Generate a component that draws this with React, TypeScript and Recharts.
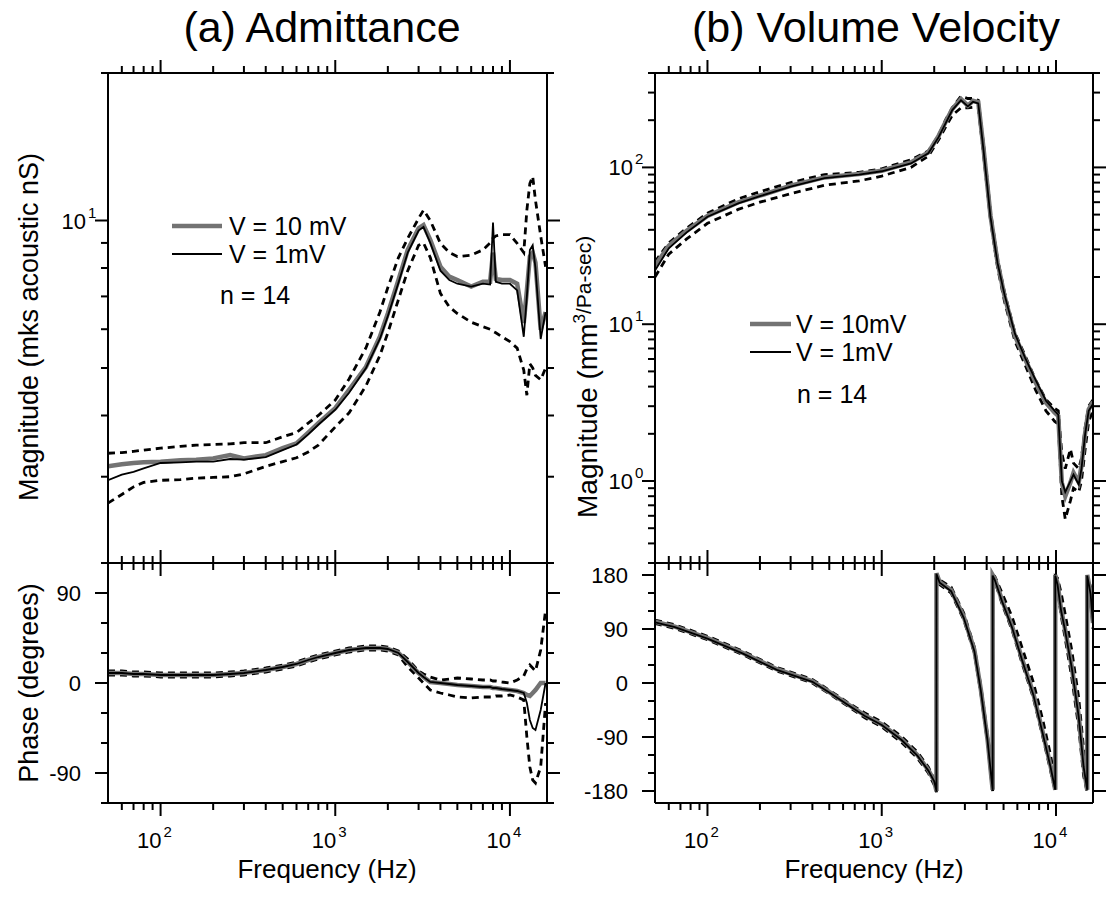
import React from 'react';
import { LineChart, Line, XAxis, YAxis } from 'recharts';

const W = 1114;
const H = 898;
const FONT = '"Liberation Sans", Arial, Helvetica, sans-serif';

// ---------- axes ----------
const X_DOMAIN = [50, 16300];
const freqTicks = [60, 70, 80, 90, 100, 200, 300, 400, 500, 600, 700, 800, 900, 1000, 2000, 3000, 4000, 5000, 6000, 7000, 8000, 9000, 10000];

const admMagDomain = [2, 20];
const admMagTicks = [2, 3, 4, 5, 6, 7, 8, 9, 10, 20];
const admPhDomain = [-120, 120];
const admPhTicks = [-120, -90, -60, -30, 0, 30, 60, 90, 120];
const admPhLabels = [-90, 0, 90];

const vvMagDomain = [0.3, 400];
const vvMagTicks = [0.3, 0.4, 0.5, 0.6, 0.7, 0.8, 0.9, 1, 2, 3, 4, 5, 6, 7, 8, 9, 10, 20, 30, 40, 50, 60, 70, 80, 90, 100, 200, 300, 400];
const vvPhDomain = [-200, 200];
const vvPhTicks = [-180, -150, -120, -90, -60, -30, 0, 30, 60, 90, 120, 150, 180];
const vvPhLabels = [-180, -90, 0, 90, 180];

// ---------- (a) Admittance ----------
const admFreq = [50, 60, 70, 80, 100, 130, 160, 200, 250, 300, 400, 500, 600, 700, 800, 1000, 1200, 1500, 1800, 2000, 2300, 2600, 3000, 3200, 3500, 4000, 4500, 5000, 6000, 7000, 7700, 8000, 8300, 9000, 10000, 11000, 12000, 12500, 13000, 13500, 14000, 15000, 16000];

const admMag10mV = [3.15, 3.18, 3.2, 3.21, 3.22, 3.24, 3.25, 3.27, 3.32, 3.27, 3.32, 3.43, 3.51, 3.69, 3.86, 4.14, 4.51, 5.03, 5.79, 6.46, 7.56, 8.71, 9.64, 9.79, 9.13, 8.05, 7.68, 7.56, 7.33, 7.5, 7.5, 8.6, 7.6, 7.56, 7.56, 7.43, 6.18, 7.2, 8.44, 8.6, 8.2, 5.98, 6.5];
const admMag1mV = [2.95, 3.03, 3.07, 3.12, 3.2, 3.21, 3.22, 3.22, 3.26, 3.25, 3.29, 3.4, 3.49, 3.66, 3.83, 4.11, 4.45, 5.0, 5.73, 6.38, 7.46, 8.6, 9.54, 9.7, 9.0, 7.9, 7.56, 7.43, 7.33, 7.43, 7.4, 9.9, 7.5, 7.43, 7.43, 7.2, 5.79, 7.0, 8.7, 8.9, 8.0, 5.73, 6.5];
const admMagUpper = [3.35, 3.36, 3.38, 3.4, 3.43, 3.46, 3.48, 3.49, 3.5, 3.52, 3.52, 3.62, 3.69, 3.86, 4.0, 4.3, 4.75, 5.5, 6.5, 7.3, 8.4, 9.2, 10.1, 10.5, 10.0, 8.98, 8.6, 8.44, 8.5, 8.71, 9.0, 9.2, 9.3, 9.36, 9.36, 8.98, 8.6, 10.5, 11.9, 12.3, 11.0, 9.3, 8.05];
const admMagLower = [2.65, 2.76, 2.86, 2.92, 2.95, 2.96, 2.98, 2.99, 3.0, 3.04, 3.15, 3.22, 3.28, 3.37, 3.48, 3.79, 4.05, 4.6, 5.3, 5.9, 6.9, 7.9, 8.9, 9.0, 8.4, 7.1, 6.66, 6.46, 6.2, 6.07, 6.0, 5.94, 5.9, 5.79, 5.66, 5.49, 4.95, 4.4, 5.1, 5.0, 4.83, 4.73, 5.0];

const admPh10mV = [10, 10, 9, 9, 8, 8, 8, 8, 9, 10, 13, 16, 19, 23, 26, 30, 33, 35, 35, 34, 30, 21, 10, 6, 1, 0, -1, -2, -3, -4, -4, -5, -5, -6, -7, -8, -10, -12, -13, -10, -7, 0, 0];
const admPh1mV = [10, 10, 9, 9, 8, 8, 8, 8, 9, 10, 13, 16, 19, 23, 26, 30, 33, 35, 35, 34, 30, 21, 10, 6, 1, 0, -1, -2, -3, -4, -4, -5, -5, -6, -7, -8, -10, -20, -37, -45, -47, -27, 0];
const admPhUpper = [12, 12, 11, 11, 10, 10, 10, 10, 11, 12, 15, 18, 21, 25, 28, 32, 35, 37, 37, 36, 32, 24, 12, 9, 6, 3, 4, 5, 4, 3, 3, 2, 2, 1, 0, 3, 7, 14, 18, 15, 12, 33, 73];
const admPhLower = [8, 8, 7, 7, 6, 6, 6, 6, 7, 8, 11, 14, 17, 21, 24, 28, 31, 33, 33, 32, 28, 16, 5, 0, -7, -10, -12, -14, -15, -14, -14, -14, -13, -13, -12, -14, -17, -54, -84, -97, -100, -84, -20];

// ---------- (b) Volume Velocity ----------
const vvMagFreq = [50, 60, 76, 100, 150, 200, 300, 470, 740, 1000, 1470, 1850, 2120, 2320, 2540, 2850, 3120, 3340, 3580, 3840, 4210, 4620, 5060, 5810, 6650, 7640, 8760, 9830, 10300, 10800, 11300, 12100, 12600, 13500, 14000, 14700, 15400, 16300];
const vvMag10mV = [23.6, 31.6, 39.4, 49.1, 59.8, 66, 76.4, 86.3, 90.7, 95.2, 107.6, 124.6, 159, 194, 236, 273, 248, 266, 260, 131, 49, 24.8, 15.2, 8.43, 5.98, 4.25, 3.16, 2.73, 2.6, 0.975, 0.8, 0.98, 1.13, 0.98, 1.25, 2.03, 2.86, 3.2];
const vvMag1mV = [22, 30.5, 38.5, 48.5, 59, 65.5, 75.5, 85.5, 90, 94.5, 106, 123, 156, 190, 232, 268, 245, 262, 256, 128, 48, 24.5, 15.5, 8.7, 6.1, 4.4, 3.25, 2.8, 2.65, 1.0, 0.85, 1.0, 1.1, 0.95, 1.2, 2.0, 2.8, 3.1];
const vvMagUpper = [25, 33, 41, 51, 63, 70, 80, 90, 93, 98, 112, 127, 160, 200, 240, 285, 275, 275, 268, 140, 52, 26, 16, 8.8, 6.3, 4.4, 3.3, 2.9, 2.8, 1.5, 1.2, 1.6, 1.3, 1.2, 1.4, 2.2, 3.0, 3.3];
const vvMagLower = [20, 28, 35, 44, 54, 60, 68, 77, 82, 88, 100, 118, 150, 180, 215, 240, 240, 242, 240, 120, 46, 23, 14, 7.8, 5.5, 3.8, 2.8, 2.4, 2.3, 0.8, 0.57, 0.75, 0.9, 0.85, 1.0, 1.6, 2.4, 2.8];

const vvPhFreq = [50, 65, 100, 160, 250, 400, 500, 650, 800, 1000, 1300, 1600, 1850, 2000, 2060, 2060, 2150, 2500, 2950, 3400, 3700, 4050, 4250, 4330, 4330, 4450, 4900, 5600, 6400, 7400, 8400, 9300, 9900, 9900, 10200, 10700, 11200, 12300, 13500, 14400, 15100, 15100, 15800, 16300];
const vvPh10mV = [102, 94, 75, 50, 23, 3, -15, -37, -54, -69, -94, -120, -145, -163, -180, 183, 168, 155, 111, 55, -10, -95, -155, -178, 180, 174, 138, 94, 39, -17, -83, -138, -178, 180, 166, 122, 94, 28, -55, -138, -178, 180, 150, 100];
const vvPh1mV = [101, 93, 74, 49, 22, 2, -16, -38, -55, -70, -95, -121, -146, -164, -180, 182, 167, 153, 109, 53, -12, -97, -156, -178, 179, 172, 136, 92, 37, -19, -85, -140, -178, 179, 164, 120, 92, 26, -57, -140, -178, 179, 148, 98];
const vvPhUpper = [105, 97, 78, 53, 26, 6, -12, -34, -50, -65, -89, -115, -140, -160, -178, 182, 172, 160, 117, 60, -4, -88, -150, -175, 180, 178, 150, 110, 58, 2, -62, -120, -165, 178, 175, 150, 120, 55, -25, -110, -160, 178, 160, 120];
const vvPhLower = [99, 91, 72, 47, 20, 0, -18, -40, -58, -73, -99, -125, -150, -170, -182, 180, 164, 150, 106, 50, -16, -100, -160, -180, 178, 170, 132, 88, 32, -24, -90, -146, -180, 176, 160, 112, 80, 10, -75, -155, -182, 178, 140, 90];

function buildRows(f: number[], g: number[], s: number[], u: number[], l: number[]) {
  return f.map((x, i) => ({ f: x, g: g[i], s: s[i], u: u[i], l: l[i] }));
}

const admMagRows = buildRows(admFreq, admMag10mV, admMag1mV, admMagUpper, admMagLower);
const admPhRows = buildRows(admFreq, admPh10mV, admPh1mV, admPhUpper, admPhLower);
const vvMagRows = buildRows(vvMagFreq, vvMag10mV, vvMag1mV, vvMagUpper, vvMagLower);
const vvPhRows = buildRows(vvPhFreq, vvPh10mV, vvPh1mV, vvPhUpper, vvPhLower);

// ---------- layout ----------
const A_LEFT = 108, A_RIGHT = 547;
const B_LEFT = 655, B_RIGHT = 1093;
const TOP = 73, MID = 563, BOT = 803;
const GRAY = '#737373';

const AX = { stroke: '#000', strokeWidth: 2 };
const isDecade = (v: number) => Math.abs(Math.log10(v) - Math.round(Math.log10(v))) < 1e-9;

const xTick = (dir: number, labels: boolean) => (p: any) => {
  const { x, y, payload } = p;
  const v = payload.value;
  const major = isDecade(v);
  const len = major ? 13 : 7;
  return (
    <g>
      <line x1={x} x2={x} y1={y} y2={y + dir * len} stroke="#000" strokeWidth={2} />
      {labels && major ? (
        <g fontFamily={FONT} fill="#000">
          <text x={x + 1} y={y + 45} textAnchor="end" fontSize={22}>10</text>
          <text x={x + 3} y={y + 34} fontSize={15}>{Math.round(Math.log10(v))}</text>
        </g>
      ) : null}
    </g>
  );
};

const yTick = (dir: number, isMajor: (v: number) => boolean, kind: 'log' | 'lin' | null) => (p: any) => {
  const { x, y, payload } = p;
  const v = payload.value;
  const major = isMajor(v);
  const len = major ? 13 : 7;
  return (
    <g>
      <line x1={x} x2={x + dir * len} y1={y} y2={y} stroke="#000" strokeWidth={2} />
      {kind === 'log' && major ? (
        <g fontFamily={FONT} fill="#000">
          <text x={x - 22} y={y + 8} textAnchor="end" fontSize={22}>10</text>
          <text x={x - 20} y={y - 3} fontSize={15}>{Math.round(Math.log10(v))}</text>
        </g>
      ) : null}
      {kind === 'lin' && major ? (
        <text x={x - 27} y={y + 8} textAnchor="end" fontSize={22} fontFamily={FONT} fill="#000">{v}</text>
      ) : null}
    </g>
  );
};

type PlotProps = {
  data: any[];
  left: number; right: number; top: number; bottom: number;
  yScale: 'log' | 'linear';
  yDomain: number[];
  yTicks: number[];
  isMajor: (v: number) => boolean;
  yKind: 'log' | 'lin' | null;
  xLabels: boolean;
};

function Plot(props: PlotProps) {
  const { data, left, right, top, bottom, yScale, yDomain, yTicks, isMajor, yKind, xLabels } = props;
  // each axis occupies 1px outside the plot area
  const margin = { top: top - 1, left: left - 1, right: W - right - 1, bottom: H - bottom - 1 };
  const common = { type: 'number' as const, allowDataOverflow: true, interval: 0 as const, tickSize: 0, tickMargin: 0, tickLine: false, axisLine: AX };
  return (
    <div style={{ position: 'absolute', left: 0, top: 0 }}>
      <LineChart width={W} height={H} data={data} margin={margin}>
        <XAxis xAxisId="b" dataKey="f" orientation="bottom" scale="log" domain={X_DOMAIN} ticks={freqTicks} height={1} tick={xTick(1, xLabels)} {...common} />
        <XAxis xAxisId="t" dataKey="f" orientation="top" scale="log" domain={X_DOMAIN} ticks={freqTicks} height={1} tick={xTick(-1, false)} {...common} />
        <YAxis yAxisId="l" orientation="left" scale={yScale} domain={yDomain} ticks={yTicks} width={1} tick={yTick(-1, isMajor, yKind)} {...common} />
        <YAxis yAxisId="r" orientation="right" scale={yScale} domain={yDomain} ticks={yTicks} width={1} tick={yTick(1, isMajor, null)} {...common} />
        <Line xAxisId="b" yAxisId="l" dataKey="u" type="linear" stroke="#000" strokeWidth={2.8} strokeDasharray="7 5" dot={false} activeDot={false} isAnimationActive={false} />
        <Line xAxisId="b" yAxisId="l" dataKey="l" type="linear" stroke="#000" strokeWidth={2.8} strokeDasharray="7 5" dot={false} activeDot={false} isAnimationActive={false} />
        <Line xAxisId="b" yAxisId="l" dataKey="g" type="linear" stroke={GRAY} strokeWidth={4.5} dot={false} activeDot={false} isAnimationActive={false} />
        <Line xAxisId="b" yAxisId="l" dataKey="s" type="linear" stroke="#000" strokeWidth={1.8} dot={false} activeDot={false} isAnimationActive={false} />
      </LineChart>
    </div>
  );
}

const inList = (list: number[]) => (v: number) => list.includes(v);

export default function App() {
  return (
    <div style={{ position: 'absolute', left: 0, top: 0, width: W, height: H, background: '#fff', overflow: 'hidden' }}>
      <Plot data={admMagRows} left={A_LEFT} right={A_RIGHT} top={TOP} bottom={MID} yScale="log" yDomain={admMagDomain} yTicks={admMagTicks} isMajor={isDecade} yKind="log" xLabels={false} />
      <Plot data={admPhRows} left={A_LEFT} right={A_RIGHT} top={MID} bottom={BOT} yScale="linear" yDomain={admPhDomain} yTicks={admPhTicks} isMajor={inList(admPhLabels)} yKind="lin" xLabels={true} />
      <Plot data={vvMagRows} left={B_LEFT} right={B_RIGHT} top={TOP} bottom={MID} yScale="log" yDomain={vvMagDomain} yTicks={vvMagTicks} isMajor={isDecade} yKind="log" xLabels={false} />
      <Plot data={vvPhRows} left={B_LEFT} right={B_RIGHT} top={MID} bottom={BOT} yScale="linear" yDomain={vvPhDomain} yTicks={vvPhTicks} isMajor={inList(vvPhLabels)} yKind="lin" xLabels={true} />
      <svg width={W} height={H} style={{ position: 'absolute', left: 0, top: 0, pointerEvents: 'none' }} fontFamily={FONT} fill="#000">
        <text x={322} y={42} textAnchor="middle" fontSize={43}>(a) Admittance</text>
        <text x={876} y={42} textAnchor="middle" fontSize={43}>(b) Volume Velocity</text>
        <text transform="translate(38,327) rotate(-90)" textAnchor="middle" fontSize={27}>Magnitude (mks acoustic nS)</text>
        <text transform="translate(38,683) rotate(-90)" textAnchor="middle" fontSize={27}>Phase (degrees)</text>
        <text transform="translate(597,518) rotate(-90)" textAnchor="start" fontSize={28}>
          Magnitude (mm<tspan fontSize={17} dy={-12}>3</tspan><tspan fontSize={21} dy={6}>/Pa-sec)</tspan>
        </text>
        <text x={327} y={878} textAnchor="middle" fontSize={26}>Frequency (Hz)</text>
        <text x={874} y={878} textAnchor="middle" fontSize={26}>Frequency (Hz)</text>

        <line x1={172} x2={222} y1={226} y2={226} stroke={GRAY} strokeWidth={4.5} />
        <text x={229} y={235} fontSize={25}>V = 10 mV</text>
        <line x1={172} x2={222} y1={254} y2={254} stroke="#000" strokeWidth={1.8} />
        <text x={229} y={263} fontSize={25}>V = 1mV</text>
        <text x={220} y={304} fontSize={25}>n = 14</text>

        <line x1={750} x2={791} y1={324} y2={324} stroke={GRAY} strokeWidth={4.5} />
        <text x={796} y={333} fontSize={25}>V = 10mV</text>
        <line x1={750} x2={791} y1={352} y2={352} stroke="#000" strokeWidth={1.8} />
        <text x={796} y={361} fontSize={25}>V = 1mV</text>
        <text x={797} y={403} fontSize={25}>n = 14</text>
      </svg>
    </div>
  );
}
